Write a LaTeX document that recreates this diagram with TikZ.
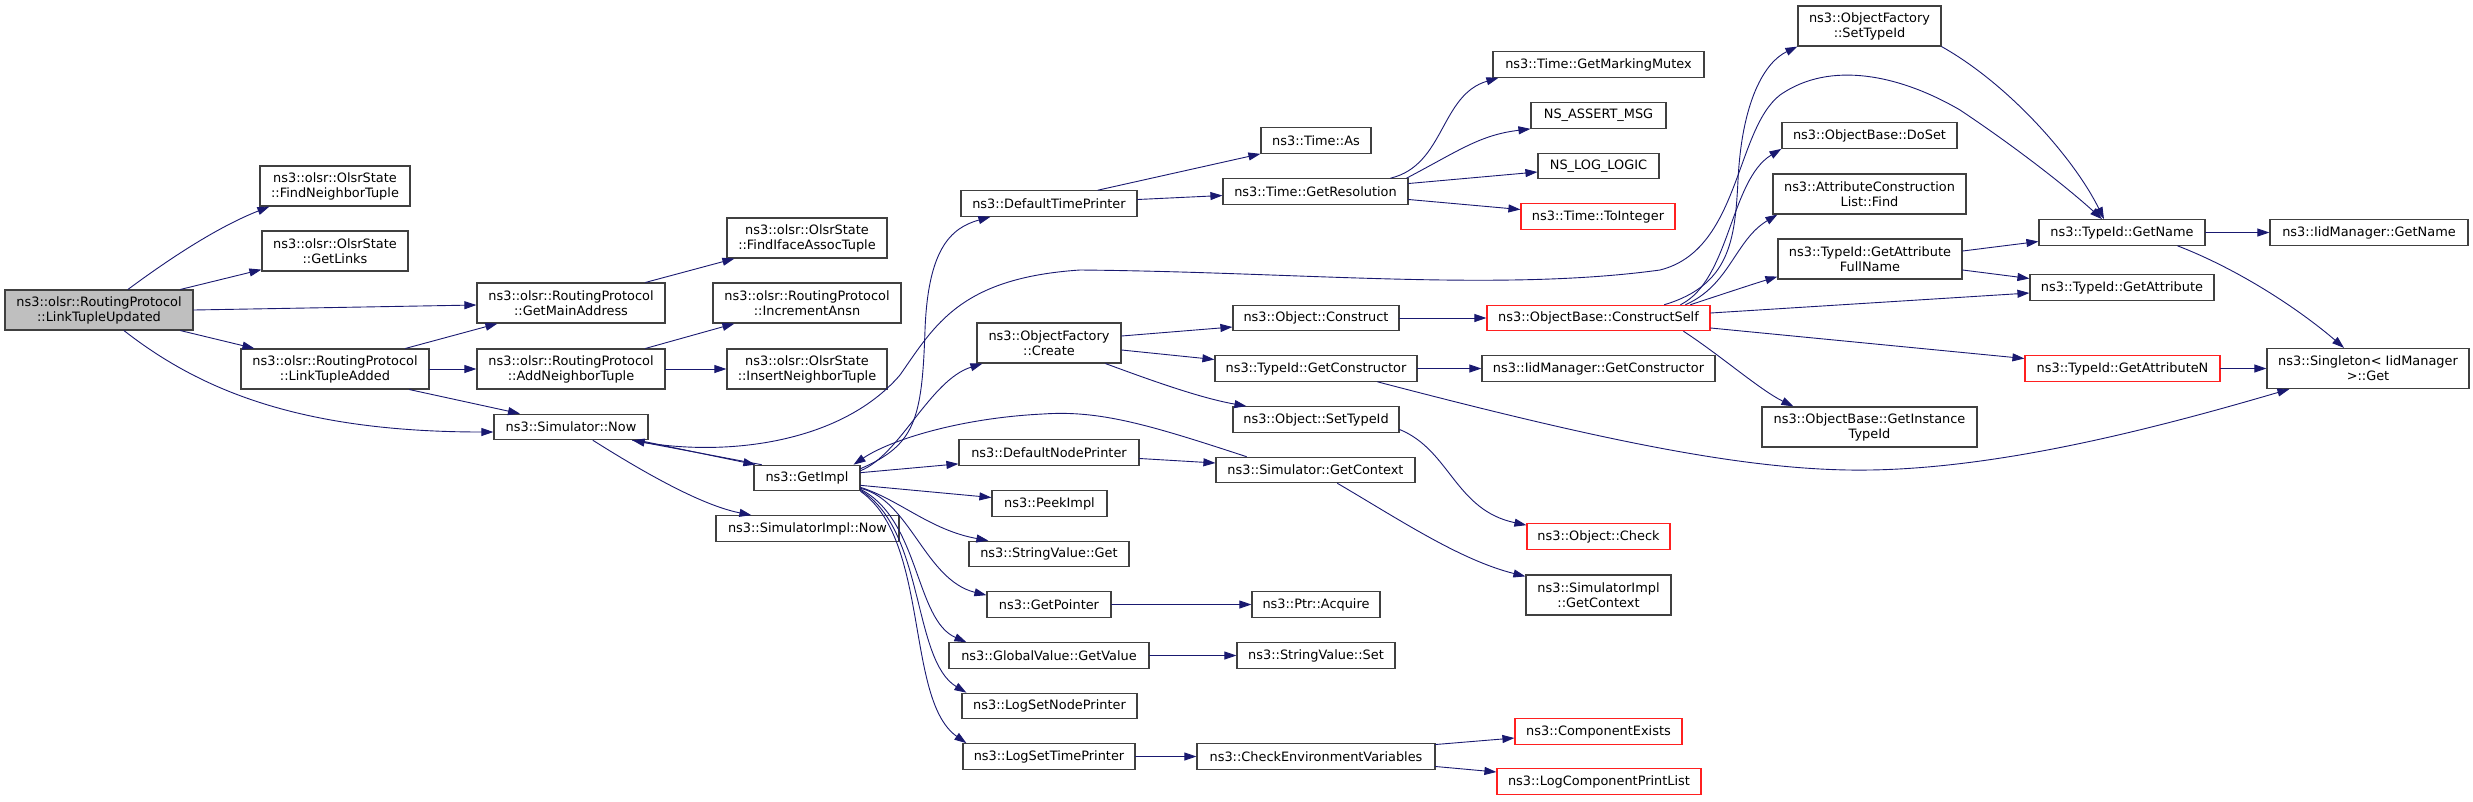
\documentclass[tikz,border=0pt]{standalone}
\usepackage{fontspec}
\setmainfont{DejaVu Sans}
\usepackage{tikz}
\usetikzlibrary{arrows.meta}
\definecolor{edgeBlue}{HTML}{191970}
\definecolor{boxGrey}{HTML}{404040}
\definecolor{rootFill}{HTML}{BFBFBF}
\definecolor{truncRed}{HTML}{FF2020}

\begin{document}
\begin{tikzpicture}[x=1pt, y=-1pt, line cap=round,
  fn/.style={draw=boxGrey, line width=1.2pt, fill=white, inner sep=0pt, minimum height=25.5pt, align=center, font=\fontsize{12.9}{15}\selectfont},
  fn2/.style={fn, minimum height=40pt},
  trunc/.style={draw=truncRed},
  edge/.style={edgeBlue, line width=0.9pt, ->, >={Triangle[length=12pt,width=8pt]}}]

  \useasboundingbox (0,0) rectangle (2473,801);

  % rank 0 .. 3
  \node[fn2, fill=rootFill, minimum width=188pt] (ltu) at (99,310) {ns3::olsr::RoutingProtocol\\::LinkTupleUpdated};
  \node[fn2, minimum width=150pt] (fnt) at (335,186) {ns3::olsr::OlsrState\\::FindNeighborTuple};
  \node[fn2, minimum width=146pt] (gl) at (335,251) {ns3::olsr::OlsrState\\::GetLinks};
  \node[fn2, minimum width=188pt] (lta) at (335,369) {ns3::olsr::RoutingProtocol\\::LinkTupleAdded};
  \node[fn2, minimum width=188pt] (gma) at (571,303) {ns3::olsr::RoutingProtocol\\::GetMainAddress};
  \node[fn2, minimum width=188pt] (ant) at (571,369) {ns3::olsr::RoutingProtocol\\::AddNeighborTuple};
  \node[fn, minimum width=154pt] (snow) at (571,427) {ns3::Simulator::Now};
  \node[fn2, minimum width=160pt] (fiat) at (807,238) {ns3::olsr::OlsrState\\::FindIfaceAssocTuple};
  \node[fn2, minimum width=188pt] (ia) at (807,303) {ns3::olsr::RoutingProtocol\\::IncrementAnsn};
  \node[fn2, minimum width=160pt] (int) at (807,369) {ns3::olsr::OlsrState\\::InsertNeighborTuple};
  \node[fn, minimum width=106pt] (gimpl) at (807,478) {ns3::GetImpl};
  \node[fn, minimum width=183pt] (sinow) at (807.5,528.5) {ns3::SimulatorImpl::Now};

  % rank 4
  \node[fn, minimum width=176pt] (dtp) at (1049,203.5) {ns3::DefaultTimePrinter};
  \node[fn2, minimum width=144pt] (ofc) at (1049,343) {ns3::ObjectFactory\\::Create};
  \node[fn, minimum width=180pt] (dnp) at (1049,452.5) {ns3::DefaultNodePrinter};
  \node[fn, minimum width=115pt] (peek) at (1049.5,503.5) {ns3::PeekImpl};
  \node[fn, minimum width=160pt] (svg) at (1049,554) {ns3::StringValue::Get};
  \node[fn, minimum width=124pt] (gp) at (1049,604.5) {ns3::GetPointer};
  \node[fn, minimum width=200pt] (gvgv) at (1049,655.5) {ns3::GlobalValue::GetValue};
  \node[fn, minimum width=175pt] (lsnp) at (1049.5,706) {ns3::LogSetNodePrinter};
  \node[fn, minimum width=172pt] (lstp) at (1049,756.5) {ns3::LogSetTimePrinter};

  % rank 5
  \node[fn, minimum width=110pt] (tas) at (1316,140.5) {ns3::Time::As};
  \node[fn, minimum width=185pt] (tgr) at (1315.5,191.5) {ns3::Time::GetResolution};
  \node[fn, minimum width=166pt] (oc) at (1316,318) {ns3::Object::Construct};
  \node[fn, minimum width=202pt] (tgc) at (1316,368.5) {ns3::TypeId::GetConstructor};
  \node[fn, minimum width=166pt] (ost) at (1316,419.5) {ns3::Object::SetTypeId};
  \node[fn, minimum width=199pt] (sgc) at (1315.5,470) {ns3::Simulator::GetContext};
  \node[fn, minimum width=128pt] (pa) at (1316,604.5) {ns3::Ptr::Acquire};
  \node[fn, minimum width=158pt] (svs) at (1316,655.5) {ns3::StringValue::Set};
  \node[fn, minimum width=238pt] (cev) at (1316,756.5) {ns3::CheckEnvironmentVariables};

  % rank 6
  \node[fn, minimum width=211pt] (gmm) at (1598.5,64.5) {ns3::Time::GetMarkingMutex};
  \node[fn, minimum width=135pt] (nam) at (1598.5,115.5) {NS\_ASSERT\_MSG};
  \node[fn, minimum width=121pt] (nll) at (1598.5,166) {NS\_LOG\_LOGIC};
  \node[fn, trunc, minimum width=154pt] (tti) at (1598,216.5) {ns3::Time::ToInteger};
  \node[fn, trunc, minimum width=223pt] (ocs) at (1598.5,318) {ns3::ObjectBase::ConstructSelf};
  \node[fn, minimum width=233pt] (igc) at (1598.5,368.5) {ns3::IidManager::GetConstructor};
  \node[fn, trunc, minimum width=143pt] (ochk) at (1598.5,536.5) {ns3::Object::Check};
  \node[fn2, minimum width=145pt] (sigc) at (1598.5,595) {ns3::SimulatorImpl\\::GetContext};
  \node[fn, trunc, minimum width=167pt] (ce) at (1598.5,731.5) {ns3::ComponentExists};
  \node[fn, trunc, minimum width=204pt] (lcpl) at (1599,781.5) {ns3::LogComponentPrintList};

  % rank 7 .. 9
  \node[fn2, minimum width=143pt] (ofs) at (1869.5,26) {ns3::ObjectFactory\\::SetTypeId};
  \node[fn, minimum width=175pt] (ods) at (1869.5,135.5) {ns3::ObjectBase::DoSet};
  \node[fn2, minimum width=193pt] (acl) at (1869.5,194) {ns3::AttributeConstruction\\List::Find};
  \node[fn2, minimum width=184pt] (gafn) at (1870,259) {ns3::TypeId::GetAttribute\\FullName};
  \node[fn2, minimum width=215pt] (ogit) at (1869.5,427) {ns3::ObjectBase::GetInstance\\TypeId};
  \node[fn, minimum width=166pt] (tgn) at (2122,232.5) {ns3::TypeId::GetName};
  \node[fn, minimum width=184pt] (tga) at (2122,287.5) {ns3::TypeId::GetAttribute};
  \node[fn, trunc, minimum width=195pt] (tgan) at (2122.5,368.5) {ns3::TypeId::GetAttributeN};
  \node[fn, minimum width=198pt] (ign) at (2369,232.5) {ns3::IidManager::GetName};
  \node[fn2, minimum width=202pt] (sget) at (2368,368.5) {ns3::Singleton< IidManager\\>::Get};

  % calls of LinkTupleUpdated
  \draw[edge] ([xshift=29pt]ltu.north) .. controls (165,262) and (215,228) .. ([xshift=10pt]fnt.south west);
  \draw[edge] ([xshift=-13pt]ltu.north east) -- ([yshift=2pt]gl.south west);
  \draw[edge] (ltu.east) -- ([yshift=-2pt]gma.west);
  \draw[edge] ([xshift=-13pt]ltu.south east) -- ([xshift=14pt]lta.north west);
  \draw[edge] ([xshift=25pt]ltu.south) .. controls (200,390) and (300,432) .. ([yshift=-5pt]snow.west);

  \draw[edge] ([xshift=-24pt]lta.north east) -- ([xshift=21pt]gma.south west);
  \draw[edge] (lta.east) -- (ant.west);
  \draw[edge] ([xshift=-20pt]lta.south east) -- ([xshift=-51pt]snow.north);
  \draw[edge] ([xshift=-20pt]gma.north east) -- ([xshift=8pt]fiat.south west);
  \draw[edge] ([xshift=-20pt]ant.north east) -- ([xshift=22pt]ia.south west);
  \draw[edge] (ant.east) -- (int.west);

  % Simulator::Now and GetImpl
  \draw[edge] ([xshift=-10pt]snow.south east) -- ([xshift=2pt]gimpl.north west);
  \draw[edge] ([xshift=8pt]gimpl.north west) -- ([xshift=-16pt]snow.south east);
  \draw[edge] ([xshift=22pt]snow.south) .. controls (640,470) and (700,505) .. ([xshift=36pt]sinow.north west);
  \draw[edge] ([xshift=-16pt]snow.south east) .. controls (720,458) and (840,445) .. (900,375)
    .. controls (935,325) and (960,278) .. (1080,270)
    .. controls (1300,272) and (1500,292) .. (1660,270)
    .. controls (1740,250) and (1735,130) .. (1780,95)
    .. controls (1830,60) and (1900,75) .. (1960,110)
    .. controls (2020,150) and (2070,190) .. ([xshift=-20pt]tgn.north);

  \draw[edge] ([yshift=-4pt]gimpl.north east) .. controls (915,445) and (922,420) .. (925,330)
    .. controls (928,250) and (950,228) .. ([xshift=30pt]dtp.south west);
  \draw[edge] ([yshift=-6pt]gimpl.north east) .. controls (900,455) and (930,380) .. ([xshift=6pt]ofc.south west);
  \draw[edge] ([yshift=-8pt]gimpl.north east) -- ([yshift=2pt]dnp.south west);
  \draw[edge] ([yshift=6pt]gimpl.south east) -- ([yshift=6pt]peek.west);
  \draw[edge] ([yshift=4pt]gimpl.south east) .. controls (900,500) and (930,530) .. ([xshift=20pt]svg.north west);
  \draw[edge] ([yshift=3pt]gimpl.south east) .. controls (910,500) and (925,580) .. ([yshift=-4pt]gp.north west);
  \draw[edge] ([yshift=2pt]gimpl.south east) .. controls (920,520) and (915,620) .. ([xshift=18pt]gvgv.north west);
  \draw[edge] ([yshift=1pt]gimpl.south east) .. controls (925,530) and (912,660) .. ([xshift=5pt]lsnp.north west);
  \draw[edge] (gimpl.south east) .. controls (930,540) and (905,700) .. ([xshift=4pt]lstp.north west);
  \draw[edge] ([xshift=31pt]sgc.north west) .. controls (1150,425) and (1100,410) .. (1043,414)
    .. controls (960,418) and (890,440) .. ([xshift=-7pt]gimpl.north east);

  % rank 4 -> 5
  \draw[edge] ([xshift=49pt]dtp.north) -- (tas.south west);
  \draw[edge] ([yshift=4pt]dtp.east) -- ([yshift=-4pt]tgr.west);
  \draw[edge] ([yshift=7pt]ofc.east) -- ([yshift=-9pt]oc.west);
  \draw[edge] ([yshift=-7pt]ofc.east) -- ([yshift=9pt]tgc.west);
  \draw[edge] ([xshift=-16pt]ofc.south east) .. controls (1150,380) and (1200,398) .. ([xshift=14pt]ost.north west);
  \draw[edge] ([yshift=-6pt]dnp.east) -- ([yshift=7pt]sgc.west);
  \draw[edge] (gp.east) -- (pa.west);
  \draw[edge] (gvgv.east) -- (svs.west);
  \draw[edge] (lstp.east) -- (cev.west);

  % rank 5 -> 6
  \draw[edge] ([xshift=-18pt]tgr.north east) .. controls (1445,165) and (1440,95) .. ([xshift=6pt]gmm.south west);
  \draw[edge] ([xshift=-2pt]tgr.north east) .. controls (1460,150) and (1480,135) .. (nam.south west);
  \draw[edge] ([yshift=8pt]tgr.east) -- ([yshift=-6pt]nll.west);
  \draw[edge] ([yshift=-8pt]tgr.east) -- ([yshift=7pt]tti.west);
  \draw[edge] (oc.east) -- (ocs.west);
  \draw[edge] (tgc.east) -- (igc.west);
  \draw[edge] ([xshift=-40pt]tgc.south east) .. controls (1600,440) and (1750,472) .. (1870,470)
    .. controls (2000,468) and (2150,430) .. ([xshift=23pt]sget.south west);
  \draw[edge] ([yshift=-10pt]ost.east) .. controls (1450,450) and (1455,510) .. ([yshift=-2pt]ochk.north west);
  \draw[edge] ([xshift=22pt]sgc.south) .. controls (1400,520) and (1460,560) .. ([yshift=-2pt]sigc.north west);
  \draw[edge] ([yshift=12pt]cev.east) -- ([yshift=-6.5pt]ce.west);
  \draw[edge] ([yshift=-10pt]cev.east) -- ([yshift=9.5pt]lcpl.west);

  % ConstructSelf
  \draw[edge] ([xshift=66pt]ocs.north) .. controls (1730,285) and (1735,240) .. (1738,180)
    .. controls (1742,100) and (1765,62) .. (ofs.south west);
  \draw[edge] ([xshift=-30pt]ocs.north east) .. controls (1730,280) and (1730,180) .. (ods.south west);
  \draw[edge] ([xshift=-25pt]ocs.north east) .. controls (1730,285) and (1735,240) .. ([xshift=5pt]acl.south west);
  \draw[edge] ([xshift=-20pt]ocs.north east) .. controls (1720,295) and (1750,285) .. ([yshift=3pt]gafn.south west);
  \draw[edge] ([yshift=5pt]ocs.east) -- ([yshift=-5.5pt]tga.west);
  \draw[edge] ([yshift=-10pt]ocs.east) -- ([yshift=10pt]tgan.west);
  \draw[edge] ([xshift=-27pt]ocs.south east) .. controls (1720,355) and (1760,390) .. ([xshift=32pt]ogit.north west);

  % rank 7 -> 9
  \draw[edge] (ofs.south east) .. controls (2010,85) and (2075,160) .. ([xshift=-18pt]tgn.north);
  \draw[edge] ([yshift=8pt]gafn.east) -- ([yshift=-9pt]tgn.west);
  \draw[edge] ([yshift=-11pt]gafn.east) -- ([yshift=9pt]tga.west);
  \draw[edge] (tgn.east) -- (ign.west);
  \draw[edge] ([xshift=-28pt]tgn.south east) .. controls (2240,270) and (2300,310) .. ([xshift=-24pt]sget.north);
  \draw[edge] (tgan.east) -- (sget.west);

\end{tikzpicture}
\end{document}
